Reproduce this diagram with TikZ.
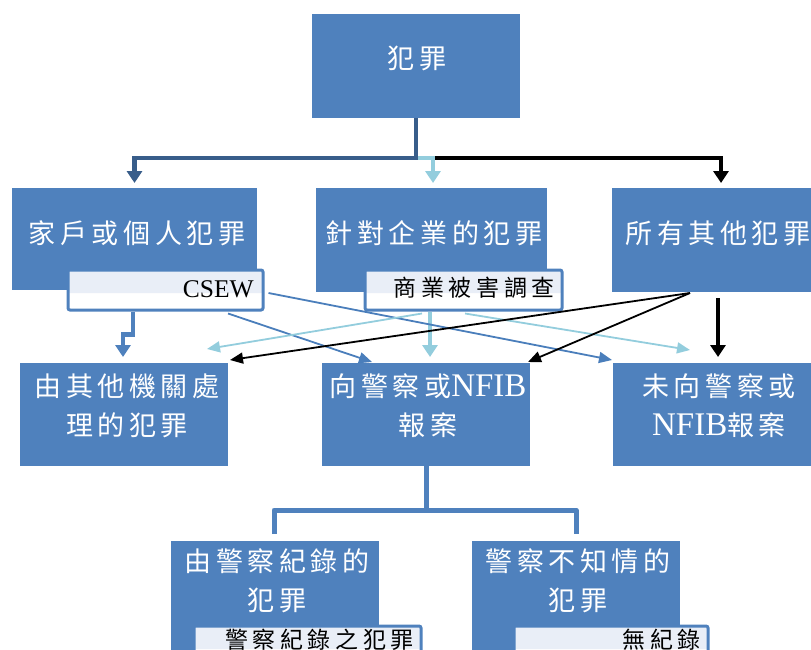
\documentclass[tikz,border=0pt]{standalone}
\usepackage{fontspec}
\setmainfont{Liberation Serif}
\newfontfamily\cjk[LetterSpace=17]{Noto Sans CJK TC}
\newfontfamily\cjklab[LetterSpace=20]{Noto Sans CJK TC}
\usetikzlibrary{arrows.meta,calc}
\definecolor{boxblue}{HTML}{4F81BD}
\definecolor{darkconn}{HTML}{385D8A}
\definecolor{lightconn}{HTML}{93CDDD}
\definecolor{thinblue}{HTML}{4A7EBB}
\definecolor{labfill}{HTML}{E9EEF7}
\newcommand{\lat}[1]{{\rmfamily\fontsize{33}{39}\selectfont #1}}
\begin{document}
\begin{tikzpicture}[x=1pt,y=-1pt,
  box/.style={fill=boxblue, draw=none, inner sep=0pt, outer sep=0pt},
  bigtxt/.style={text=white, font=\cjk\fontsize{27}{39}\selectfont, align=center, inner sep=0pt},
  lab/.style={draw=boxblue, line width=3pt, fill=white, rounded corners=2pt, inner sep=0pt,
    path picture={\fill[labfill] (path picture bounding box.north west) rectangle ($(path picture bounding box.east)+(0,3)$);}},
  labtxt/.style={text=black, anchor=east, inner sep=0pt, font=\cjklab\fontsize{23}{27}\selectfont},
  thick/.style={line width=4.5pt, -{Triangle[length=12pt,width=15pt]}},
  plainthick/.style={line width=5pt, line join=round},
  thin/.style={line width=1.8pt, -{Triangle[length=13pt,width=11pt]}}
]
\useasboundingbox (0,0) rectangle (811,650);
\clip (0,0) rectangle (811,650);

% boxes
\node[box, minimum width=208pt, minimum height=104pt] (T) at (416,66) {};
\node[box, minimum width=245pt, minimum height=102pt] (A) at (134.5,239) {};
\node[box, minimum width=231pt, minimum height=104pt] (B) at (431.5,240) {};
\node[box, minimum width=223pt, minimum height=104pt] (C) at (723.5,240) {};
\node[box, minimum width=208pt, minimum height=103pt] (D) at (124,414.5) {};
\node[box, minimum width=208pt, minimum height=103pt] (E) at (426,414.5) {};
\node[box, minimum width=208pt, minimum height=103pt] (F) at (717,414.5) {};
\node[box, minimum width=208pt, minimum height=119pt] (G) at (275,600.5) {};
\node[box, minimum width=208pt, minimum height=119pt] (H) at (576,600.5) {};

% box texts
\node[bigtxt] (tT) at (417,58) {犯罪};
\node[bigtxt] (tA) at (137,233) {家戶或個人犯罪};
\node[bigtxt] (tB) at (434,233) {針對企業的犯罪};
\node[bigtxt] (tC) at (718,233) {所有其他犯罪};
\node[bigtxt] (tD) at (127,406) {由其他機關處\\理的犯罪};
\node[bigtxt] (tE) at (428,406) {向警察或\lat{NFIB}\\報案};
\node[bigtxt] (tF) at (719,406) {未向警察或\\\lat{NFIB}報案};
\node[bigtxt] (tG) at (277,581) {由警察紀錄的\\犯罪};
\node[bigtxt] (tH) at (578,581) {警察不知情的\\犯罪};

% label boxes
\node[lab, minimum width=195pt, minimum height=40pt] (lA) at (165.5,290) {};
\node[lab, minimum width=197pt, minimum height=40pt] (lB) at (463.5,290) {};
\node[lab, minimum width=227pt, minimum height=40pt] (lG) at (307.5,646) {};
\node[lab, minimum width=194pt, minimum height=40pt] (lH) at (611,646) {};
\node[text=black, anchor=east, inner sep=0pt, font=\rmfamily\fontsize{25.5}{30}\selectfont] (tlA) at (254,289) {CSEW};
\node[labtxt] (tlB) at (555,288) {商業被害調查};
\node[labtxt] (tlG) at (414,640) {警察紀錄之犯罪};
\node[labtxt] (tlH) at (701,640) {無紀錄};

% top connectors
\draw[thick, black] ($(T.south)+(0,40)$) -| ($(C.north)+(-2.5,-5)$);
\draw[thick, lightconn] ($(T.south)+(0,40)$) -| ($(B.north)+(1.5,-5)$);
\draw[thick, darkconn] (T.south) -- ($(T.south)+(0,40)$) -| ($(A.north)+(0,-5)$);

% row 2 to row 3 thick
\draw[thick, boxblue] ($(lA.south)+(-32.5,0)$) -- ($(lA.south)+(-32.5,23)$) -| ($(D.north)+(-1,-6)$);
\draw[thick, lightconn] ($(lB.south)+(-33.5,0)$) -- ($(E.north)+(4,-6)$);
\draw[thick, black] ($(C.south)+(-5.5,6)$) -- ($(F.north)+(1,-6)$);

% thin cross connectors
\draw[thin, thinblue] ($(lA.south)+(62.5,2)$) -- ($(E.north)+(-54,-1)$);
\draw[thin, thinblue] ($(lA.east)+(4,3)$) -- ($(F.north west)+(-1,-3)$);
\draw[thin, lightconn] ($(lB.south)+(-41.5,2)$) -- ($(D.north)+(83,-14)$);
\draw[thin, lightconn] ($(lB.south)+(1.5,2)$) -- ($(F.north)+(-27,-13)$);
\draw[thin, black] ($(C.south)+(-33.5,1)$) -- ($(D.north east)+(2,-3)$);
\draw[thin, black] ($(C.south)+(-33.5,1)$) -- ($(E.north east)+(-2,-1)$);

% row 3 to row 4
\draw[plainthick, boxblue] (E.south) -- ($(E.south)+(0,44)$);
\draw[plainthick, boxblue] ($(G.north)+(-1,-7)$) |- ($(E.south)+(0,44)$) -| ($(H.north)+(0,-7)$);
\end{tikzpicture}
\end{document}
